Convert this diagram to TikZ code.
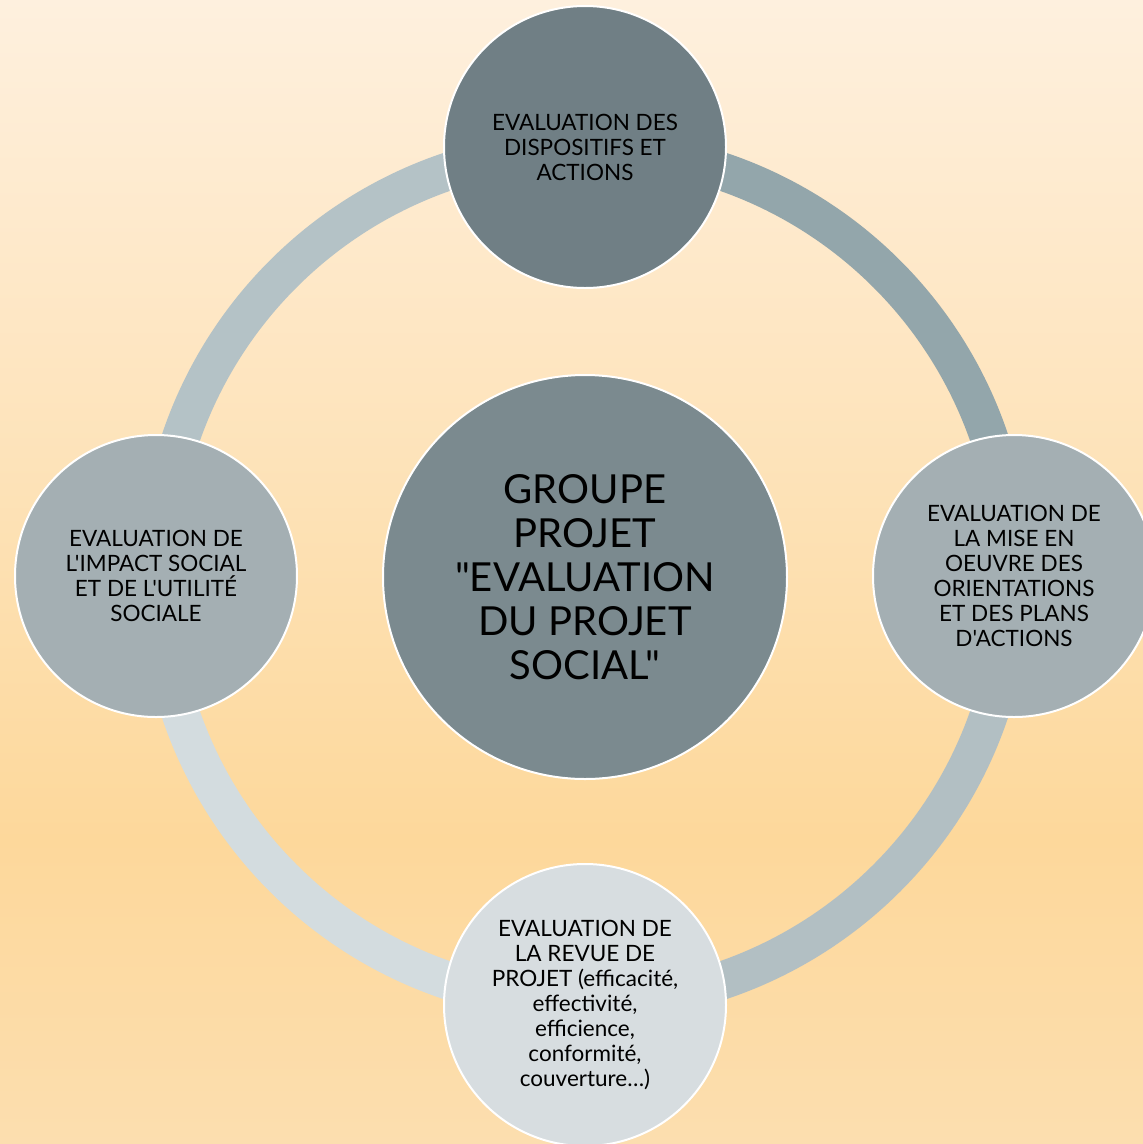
\documentclass[tikz,border=0pt]{standalone}
\usepackage{fontspec}
\setmainfont{Lato}[Ligatures=TeXOff]
\definecolor{bgtop}{HTML}{FEF0DE}
\definecolor{bgmid}{HTML}{FDD89B}
\definecolor{bgbot}{HTML}{FCDEAF}
\definecolor{arcTR}{HTML}{93A6AB}
\definecolor{arcRB}{HTML}{B2BFC3}
\definecolor{arcBL}{HTML}{D3DCDF}
\definecolor{arcLT}{HTML}{B4C2C6}
\definecolor{ctop}{HTML}{707F85}
\definecolor{ccenter}{HTML}{7B8A8F}
\definecolor{cside}{HTML}{A4AFB3}
\definecolor{cbottom}{HTML}{D7DDE0}
\tikzset{
  satellite/.style={circle, minimum size=282pt, inner sep=0pt, draw=white, line width=2pt,
    align=center, text=black, font=\fontsize{22.5}{25}\selectfont},
  hub/.style={circle, minimum size=404pt, inner sep=0pt, draw=white, line width=2pt,
    align=center, text=black, font=\fontsize{40}{44}\selectfont, fill=ccenter},
  ringarc/.style={line width=38pt}
}
\begin{document}
\begin{tikzpicture}[x=1pt,y=-1pt]
\useasboundingbox (0,0) rectangle (1143,1144);
\shade[top color=bgtop, bottom color=bgmid] (0,0) rectangle (1143,840);
\shade[top color=bgmid, bottom color=bgbot] (0,840) rectangle (1143,1144);
% ring
\coordinate (o) at (585,576);
\draw[ringarc, arcTR] (o) ++(270:427) arc[start angle=270, end angle=360, radius=427];
\draw[ringarc, arcRB] (o) ++(0:427) arc[start angle=0, end angle=90, radius=427];
\draw[ringarc, arcBL] (o) ++(90:427) arc[start angle=90, end angle=180, radius=427];
\draw[ringarc, arcLT] (o) ++(180:427) arc[start angle=180, end angle=270, radius=427];
% nodes
\node[satellite, fill=ctop] (t) at (585,147) {EVALUATION DES\\DISPOSITIFS ET\\ACTIONS};
\node[satellite, fill=cside] (r) at (1014,576) {EVALUATION DE\\LA MISE EN\\OEUVRE DES\\ORIENTATIONS\\ET DES PLANS\\D'ACTIONS};
\node[satellite, fill=cbottom] (b) at (585,1005) {EVALUATION DE\\LA REVUE DE\\PROJET (efficacité,\\effectivité,\\efficience,\\conformité,\\couverture…)};
\node[satellite, fill=cside] (l) at (156,576) {EVALUATION DE\\L'IMPACT SOCIAL\\ET DE L'UTILITÉ\\SOCIALE};
\node[hub] (c) at (585,577) {GROUPE\\PROJET\\"EVALUATION\\DU PROJET\\SOCIAL"};
\end{tikzpicture}
\end{document}
